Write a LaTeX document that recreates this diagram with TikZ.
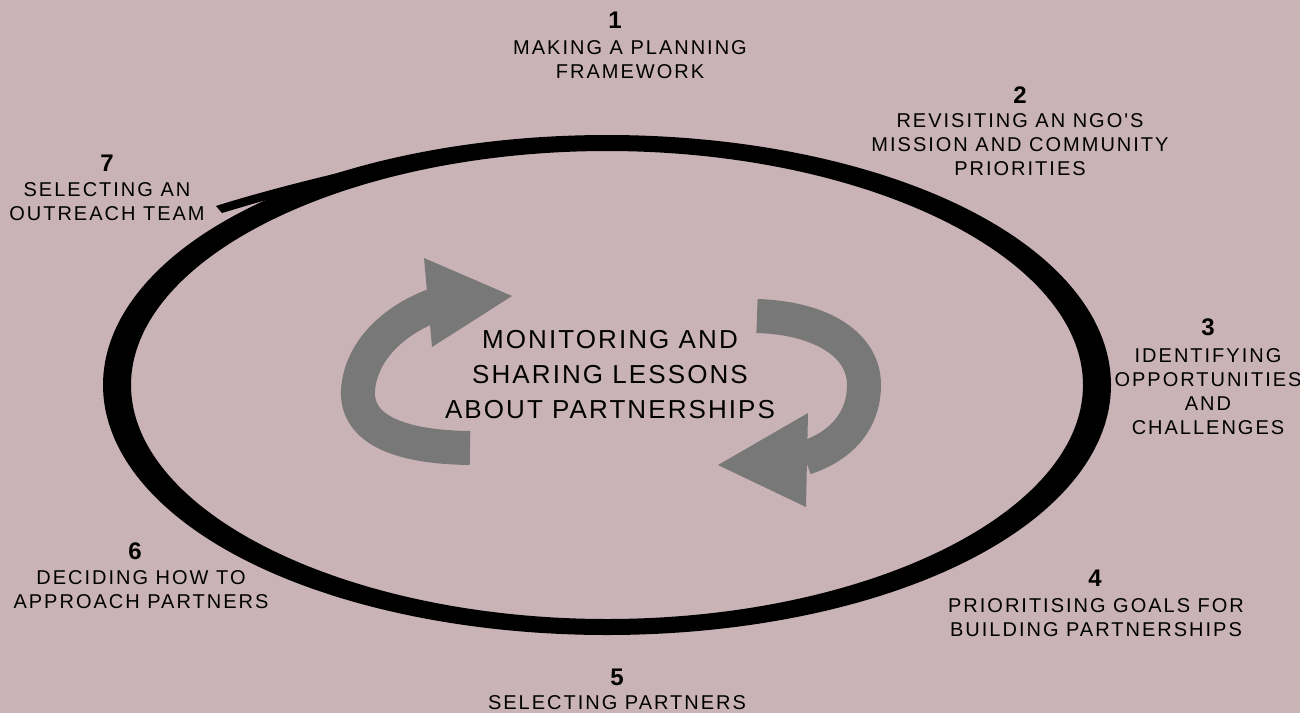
\documentclass[tikz,border=0pt]{standalone}
\usepackage{fontspec}
\setmainfont{Liberation Sans}
\newfontfamily\lblfont[LetterSpace=10]{Liberation Sans}
\newfontfamily\mainfont[LetterSpace=8]{Liberation Sans}
\newfontfamily\numfont{Liberation Sans}
\definecolor{bg}{HTML}{C9B3B7}
\definecolor{arrowgray}{HTML}{787878}
\begin{document}
\begin{tikzpicture}[x=1pt,y=-1pt,
  lbl/.style={font=\lblfont\fontsize{20}{24}\selectfont, align=center, inner sep=0pt},
  num/.style={font=\numfont\bfseries\fontsize{24}{24}\selectfont, inner sep=0pt},
  maintext/.style={font=\mainfont\fontsize{26}{35}\selectfont, align=center, inner sep=0pt},
  garrow/.style={arrowgray, line width=34pt}]
\fill[bg] (0,0) rectangle (1300,713);
\useasboundingbox (0,0) rectangle (1300,713);

% hand-drawn ring
\fill[black,even odd rule]
  plot[domain=0:357,samples=120,smooth cycle]
    ({607+(490+8+6*cos(\x)*cos(\x))*cos(\x)},{385+(242+8+6*cos(\x)*cos(\x))*sin(\x)})
  plot[domain=0:357,samples=120,smooth cycle]
    ({607+(490-8-6*cos(\x)*cos(\x))*cos(\x)},{385+(242-8-6*cos(\x)*cos(\x))*sin(\x)});
% tail of the stroke
\fill[black] (216,206) .. controls (250,195) and (320,176) .. (400,159)
  -- (400,167) .. controls (320,184) and (262,201) .. (222,213) -- cycle;

% grey cycle arrows
\draw[garrow] (470,448) .. controls (390,447) and (356,425) .. (358,390)
  .. controls (361,350) and (395,318) .. (440,303);
\fill[arrowgray] (424,258) -- (512,296) -- (432,347) -- cycle;
\draw[garrow] (757,316) .. controls (822,318) and (864,345) .. (864,385)
  .. controls (864,420) and (842,446) .. (805,458);
\fill[arrowgray] (808,413) -- (718,465) -- (806,507) -- cycle;

\node[maintext] (c) at (610,375) {MONITORING AND\\SHARING LESSONS\\ABOUT PARTNERSHIPS};

\node[num] (n1) at (615,20) {1};
\node[lbl] (l1) at (630,60) {MAKING A PLANNING\\FRAMEWORK};
\node[num] (n2) at (1020,95) {2};
\node[lbl] (l2) at (1020,145) {REVISITING AN NGO'S\\MISSION AND COMMUNITY\\PRIORITIES};
\node[num] (n3) at (1208,327) {3};
\node[lbl] (l3) at (1208,392) {IDENTIFYING\\OPPORTUNITIES\\AND\\CHALLENGES};
\node[num] (n4) at (1095,578) {4};
\node[lbl] (l4) at (1096,618) {PRIORITISING GOALS FOR\\BUILDING PARTNERSHIPS};
\node[num] (n5) at (617,677) {5};
\node[lbl] (l5) at (617,703) {SELECTING PARTNERS};
\node[num] (n6) at (135,551) {6};
\node[lbl] (l6) at (141,590) {DECIDING HOW TO\\APPROACH PARTNERS};
\node[num] (n7) at (107,163) {7};
\node[lbl] (l7) at (107,202) {SELECTING AN\\OUTREACH TEAM};
\end{tikzpicture}
\end{document}
